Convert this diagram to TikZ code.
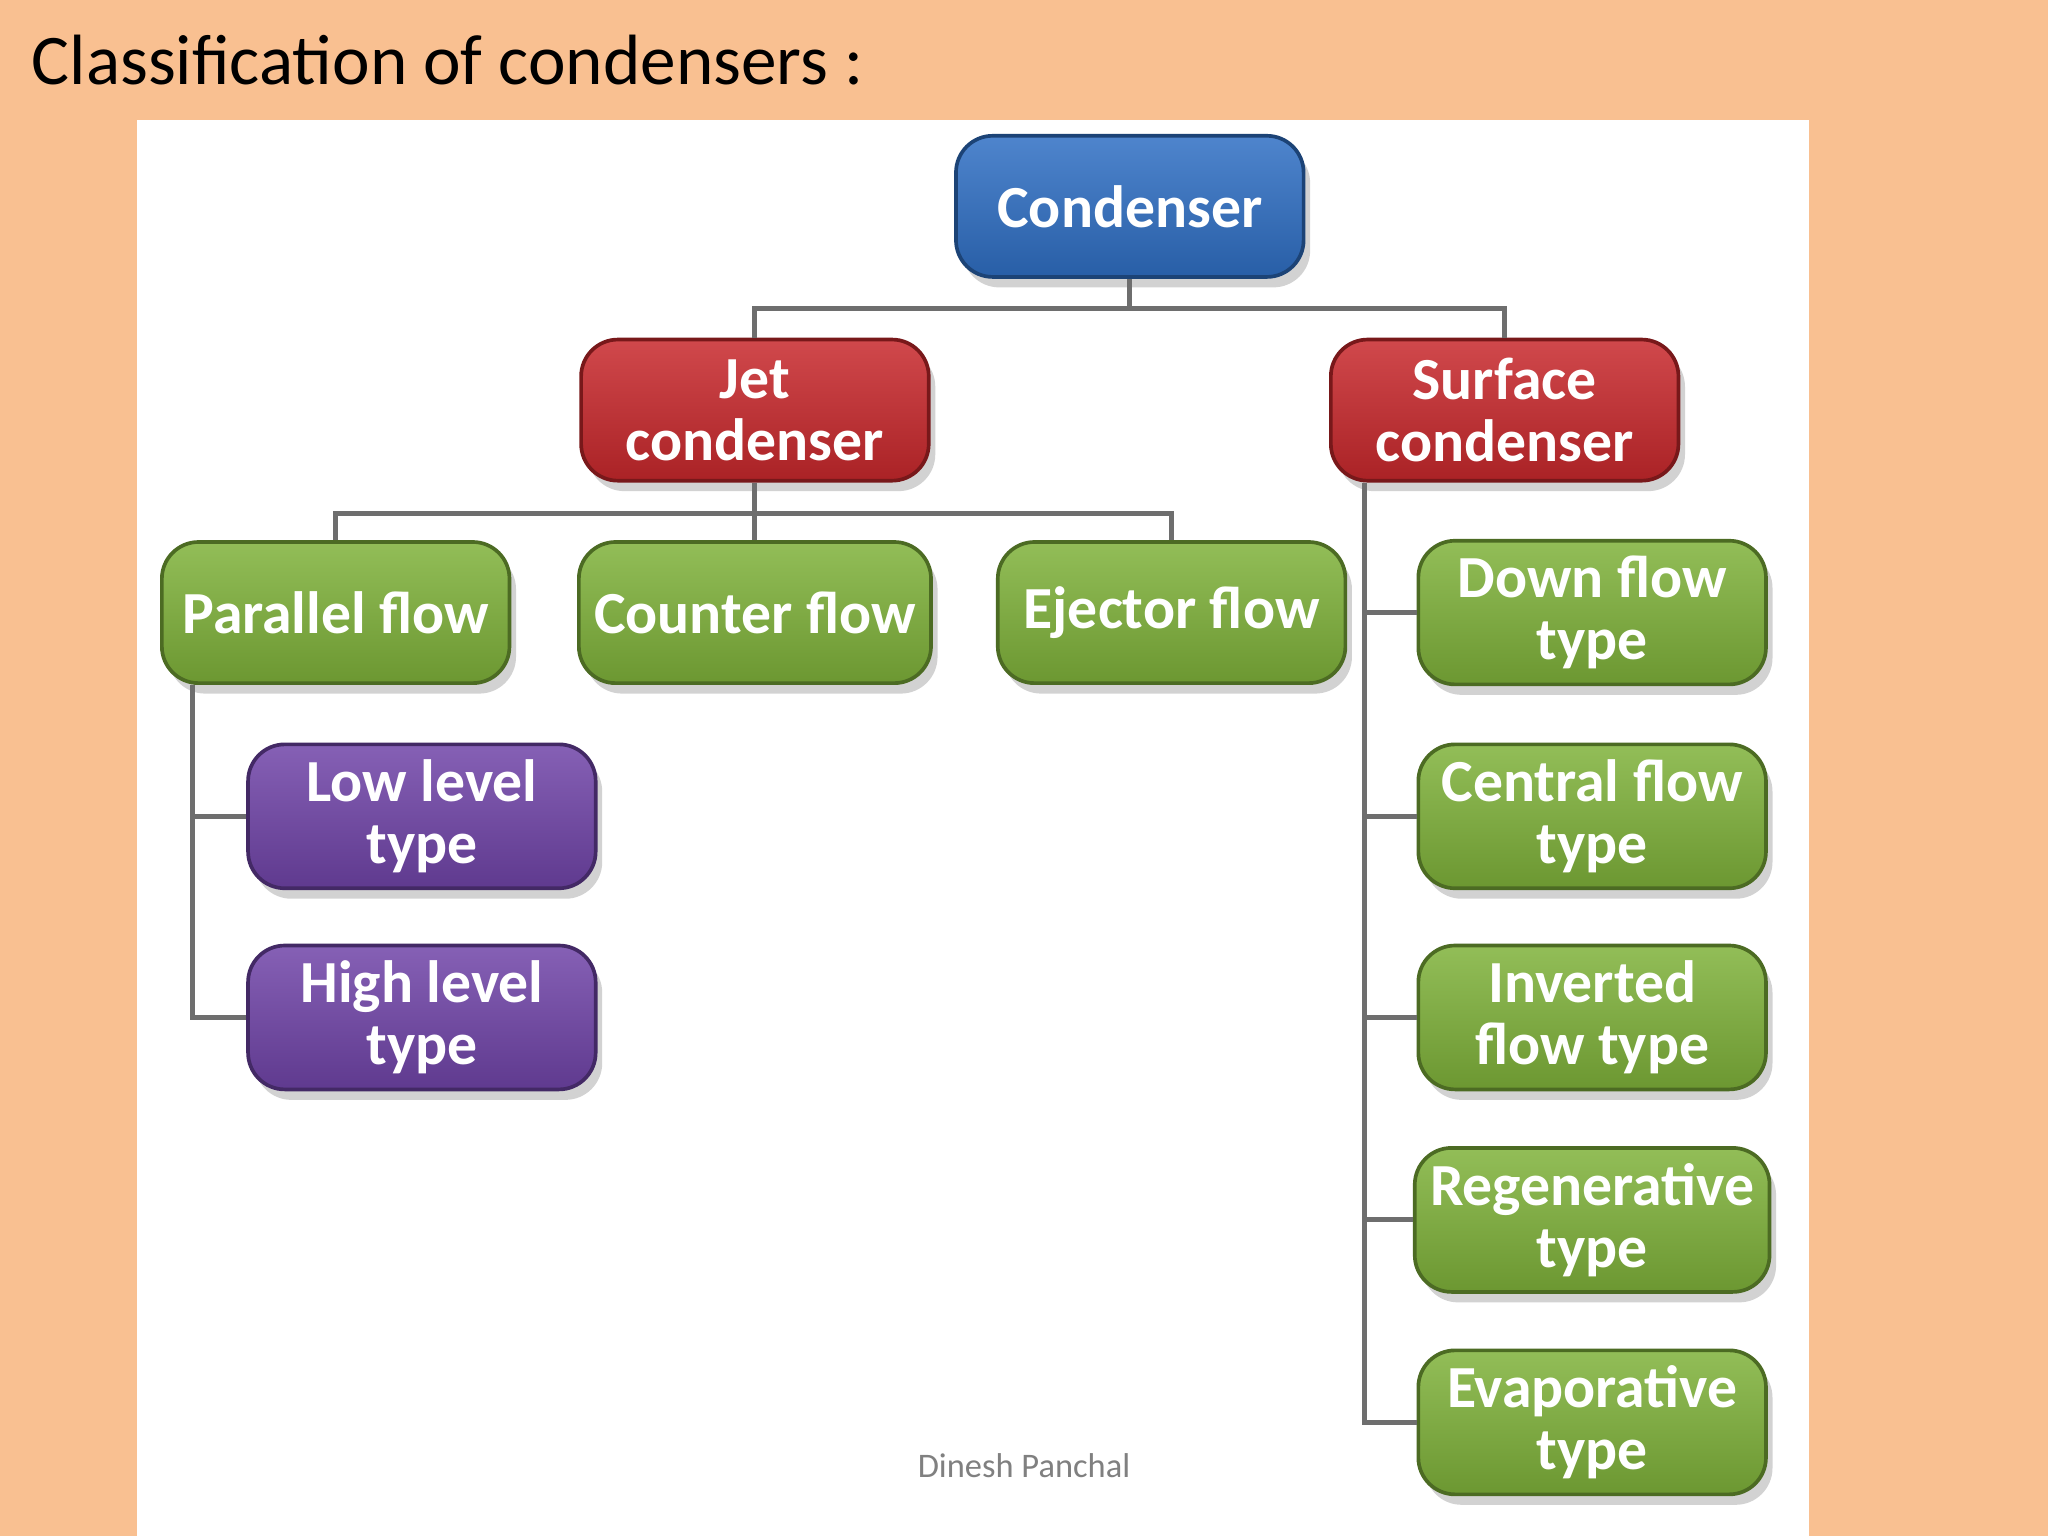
\documentclass[tikz,border=0pt]{standalone}
\usepackage{fontspec}
\setmainfont{Carlito}
\usetikzlibrary{shadows}
\definecolor{peach}{HTML}{F9C091}
\definecolor{lnk}{HTML}{6E6E6E}
\tikzset{
  box/.style={rounded corners=8pt, minimum width=2.66cm, minimum height=1.08cm, align=center,
    text=white, font=\fontsize{13}{13.5}\selectfont\bfseries, draw=#1!60!black, line width=0.8pt,
    top color=#1!85!white, bottom color=#1!85!black, drop shadow={opacity=0.35,shadow xshift=0.5mm,shadow yshift=-0.8mm}},
  lk/.style={draw=lnk, line width=1.1pt}
}
\definecolor{bl}{HTML}{2F6FC4}
\definecolor{rd}{HTML}{C8282C}
\definecolor{gr}{HTML}{7FB23A}
\definecolor{pu}{HTML}{7044A8}
\begin{document}
\begin{tikzpicture}[x=0.01cm,y=-0.01cm]
\fill[peach] (0,0) rectangle (1568,1176);
\fill[white] (105,92) rectangle (1385,1176);
\useasboundingbox (0,0) rectangle (1568,1176);
\node[anchor=west, font=\fontsize{15.5}{16}\selectfont] (title) at (12,46) {Classification of condensers :};
\node[box=bl] (c) at (865,158) {Condenser};
\node[box=rd] (j) at (578,314) {Jet\\condenser};
\node[box=rd] (s) at (1152,314) {Surface\\condenser};
\node[box=gr] (p) at (257,469) {Parallel flow};
\node[box=gr] (cf) at (578,469) {Counter flow};
\node[box=gr] (e) at (897,469) {Ejector flow};
\node[box=pu] (lo) at (323,625) {Low level\\type};
\node[box=pu] (hi) at (323,779) {High level\\type};
\node[box=gr] (d1) at (1219,469) {Down flow\\type};
\node[box=gr] (d2) at (1219,625) {Central flow\\type};
\node[box=gr] (d3) at (1219,779) {Inverted\\flow type};
\node[box=gr] (d4) at (1219,934) {Regenerative\\type};
\node[box=gr] (d5) at (1219,1089) {Evaporative\\type};
\node[text=gray, font=\fontsize{7.5}{8}\selectfont] (ft) at (784,1122) {Dinesh Panchal};
% links
\draw[lk] (c.south) -- ++(0,23) -| (j.north);
\draw[lk] (c.south) ++(0,23) -| (s.north);
\draw[lk] (j.south) -- ++(0,24) -| (p.north);
\draw[lk] (j.south) -- (cf.north);
\draw[lk] (j.south) ++(0,24) -| (e.north);
\draw[lk] (p.south west) ++(25,0) |- (lo.west);
\draw[lk] (p.south west) ++(25,0) |- (hi.west);
\foreach \n in {d1,d2,d3,d4,d5}{\draw[lk] (s.south west) ++(27,0) |- (\n.west);}
\end{tikzpicture}
\end{document}
